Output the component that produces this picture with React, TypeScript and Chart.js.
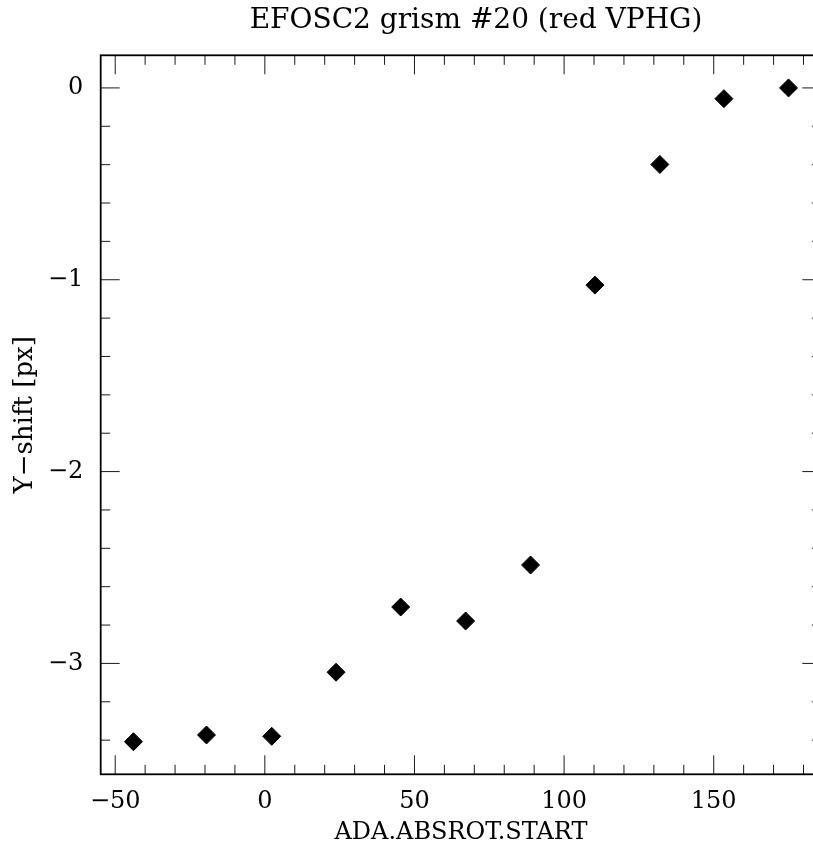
import React, { useEffect, useRef } from "react";
import { Chart, registerables } from "chart.js";

Chart.register(...registerables);

const chartTitle = "EFOSC2 grism #20 (red VPHG)";
const xAxisTitle = "ADA.ABSROT.START";
const yAxisTitle = "Y\u2212shift [px]";

const absRot = [-43.9, -19.5, 2.3, 23.8, 45.4, 67.1, 88.8, 110.3, 132.0, 153.4, 175.0];
const yShift = [-3.408, -3.373, -3.38, -3.046, -2.706, -2.779, -2.487, -1.028, -0.399, -0.056, 0.0];

const xTickValues = [-50, 0, 50, 100, 150];
const yTickValues = [-3, -2, -1, 0];
const xMinorStep = 10;
const yMinorStep = 0.2;
const xLimits = [-54.85, 185.95];
const yLimits = [-3.578, 0.17];

const FONT = "'DejaVu Serif', 'Liberation Serif', serif";
const fmt = (v: number) => (v < 0 ? "\u2212" + String(Math.abs(v)) : String(v));

const isMajor = (list: number[], v: number) => list.some((t) => Math.abs(t - v) < 1e-6);

const boxPlugin = {
  id: "pgBox",
  beforeDatasetsDraw(chart: any) {
    const { ctx, chartArea, scales } = chart;
    const { left, right, top, bottom } = chartArea;
    const xs = scales.x;
    const ys = scales.y;
    const MAJOR = 19;
    const MINOR = 9.5;
    ctx.save();
    ctx.strokeStyle = "#1a1a1a";
    ctx.lineWidth = 1;
    ctx.beginPath();
    const i0 = Math.ceil(xs.min / xMinorStep - 1e-9);
    const i1 = Math.floor(xs.max / xMinorStep + 1e-9);
    for (let i = i0; i <= i1; i++) {
      const v = i * xMinorStep;
      const p = xs.getPixelForValue(v);
      const len = isMajor(xTickValues, v) ? MAJOR : MINOR;
      ctx.moveTo(p, bottom);
      ctx.lineTo(p, bottom - len);
      ctx.moveTo(p, top);
      ctx.lineTo(p, top + len);
    }
    const j0 = Math.ceil(ys.min / yMinorStep - 1e-9);
    const j1 = Math.floor(ys.max / yMinorStep + 1e-9);
    for (let j = j0; j <= j1; j++) {
      const v = j * yMinorStep;
      const p = ys.getPixelForValue(v);
      const len = isMajor(yTickValues, v) ? MAJOR : MINOR;
      ctx.moveTo(left, p);
      ctx.lineTo(left + len, p);
      ctx.moveTo(right, p);
      ctx.lineTo(right - len, p);
    }
    ctx.stroke();
    ctx.lineWidth = 1.8;
    ctx.strokeStyle = "#000";
    ctx.strokeRect(left, top, right - left, bottom - top);
    ctx.restore();
  },
};

export default function App() {
  const ref = useRef<HTMLCanvasElement>(null);

  useEffect(() => {
    const canvas = ref.current;
    if (!canvas) return;
    const chart = new Chart(canvas, {
      type: "scatter",
      data: {
        datasets: [
          {
            label: "Y-shift",
            data: absRot.map((x, i) => ({ x, y: yShift[i] })),
            pointStyle: "rectRot",
            pointRadius: 9,
            pointHoverRadius: 9,
            backgroundColor: "#000",
            borderColor: "#000",
            borderWidth: 1,
            showLine: false,
            xAxisID: "x",
            yAxisID: "y",
          },
        ],
      },
      options: {
        responsive: false,
        animation: false,
        devicePixelRatio: 1,
        layout: { padding: 0 },
        plugins: {
          legend: { display: false },
          tooltip: { enabled: false },
          title: {
            display: true,
            text: chartTitle,
            color: "#000",
            font: { family: FONT, size: 28, weight: "normal", lineHeight: 1.2 },
            padding: { top: 3.7, bottom: 18 },
          },
        },
        scales: {
          x: {
            type: "linear",
            position: "bottom",
            min: xLimits[0],
            max: xLimits[1],
            grid: { display: false, drawTicks: false },
            border: { display: false },
            afterBuildTicks: (s: any) => {
              s.ticks = xTickValues.map((value) => ({ value }));
            },
            afterFit: (s: any) => {
              s.height = 73.7;
            },
            ticks: {
              color: "#000",
              font: { family: FONT, size: 24, lineHeight: 1.2 },
              padding: 13.3,
              maxRotation: 0,
              autoSkip: false,
              callback: (v: any) => fmt(Number(v)),
            },
            title: {
              display: true,
              text: xAxisTitle,
              color: "#000",
              font: { family: FONT, size: 24, lineHeight: 1.2 },
              padding: { top: 0, bottom: 1.1 },
            },
          },
          y: {
            type: "linear",
            position: "left",
            min: yLimits[0],
            max: yLimits[1],
            grid: { display: false, drawTicks: false },
            border: { display: false },
            afterBuildTicks: (s: any) => {
              s.ticks = yTickValues.map((value) => ({ value }));
            },
            afterFit: (s: any) => {
              s.width = 100.7;
            },
            ticks: {
              color: "#000",
              font: { family: FONT, size: 24, lineHeight: 1.2 },
              padding: 17.4,
              autoSkip: false,
              callback: (v: any) => fmt(Number(v)),
            },
            title: {
              display: true,
              text: yAxisTitle,
              color: "#000",
              font: { family: FONT, size: 26, lineHeight: 1.2 },
              padding: { top: 9.4, bottom: 0 },
            },
          },
          yRight: {
            type: "linear",
            position: "right",
            min: yLimits[0],
            max: yLimits[1],
            grid: { display: false, drawTicks: false, drawOnChartArea: false },
            border: { display: false },
            ticks: { display: false },
            afterFit: (s: any) => {
              s.width = 130.7;
            },
          },
        },
      },
      plugins: [boxPlugin],
    } as any);
    return () => chart.destroy();
  }, []);

  return (
    <div
      style={{
        position: "fixed",
        left: 0,
        top: 0,
        width: 813,
        height: 848,
        overflow: "hidden",
        background: "#fff",
      }}
    >
      <canvas ref={ref} width={952} height={848} style={{ display: "block", width: 952, height: 848 }} />
    </div>
  );
}
